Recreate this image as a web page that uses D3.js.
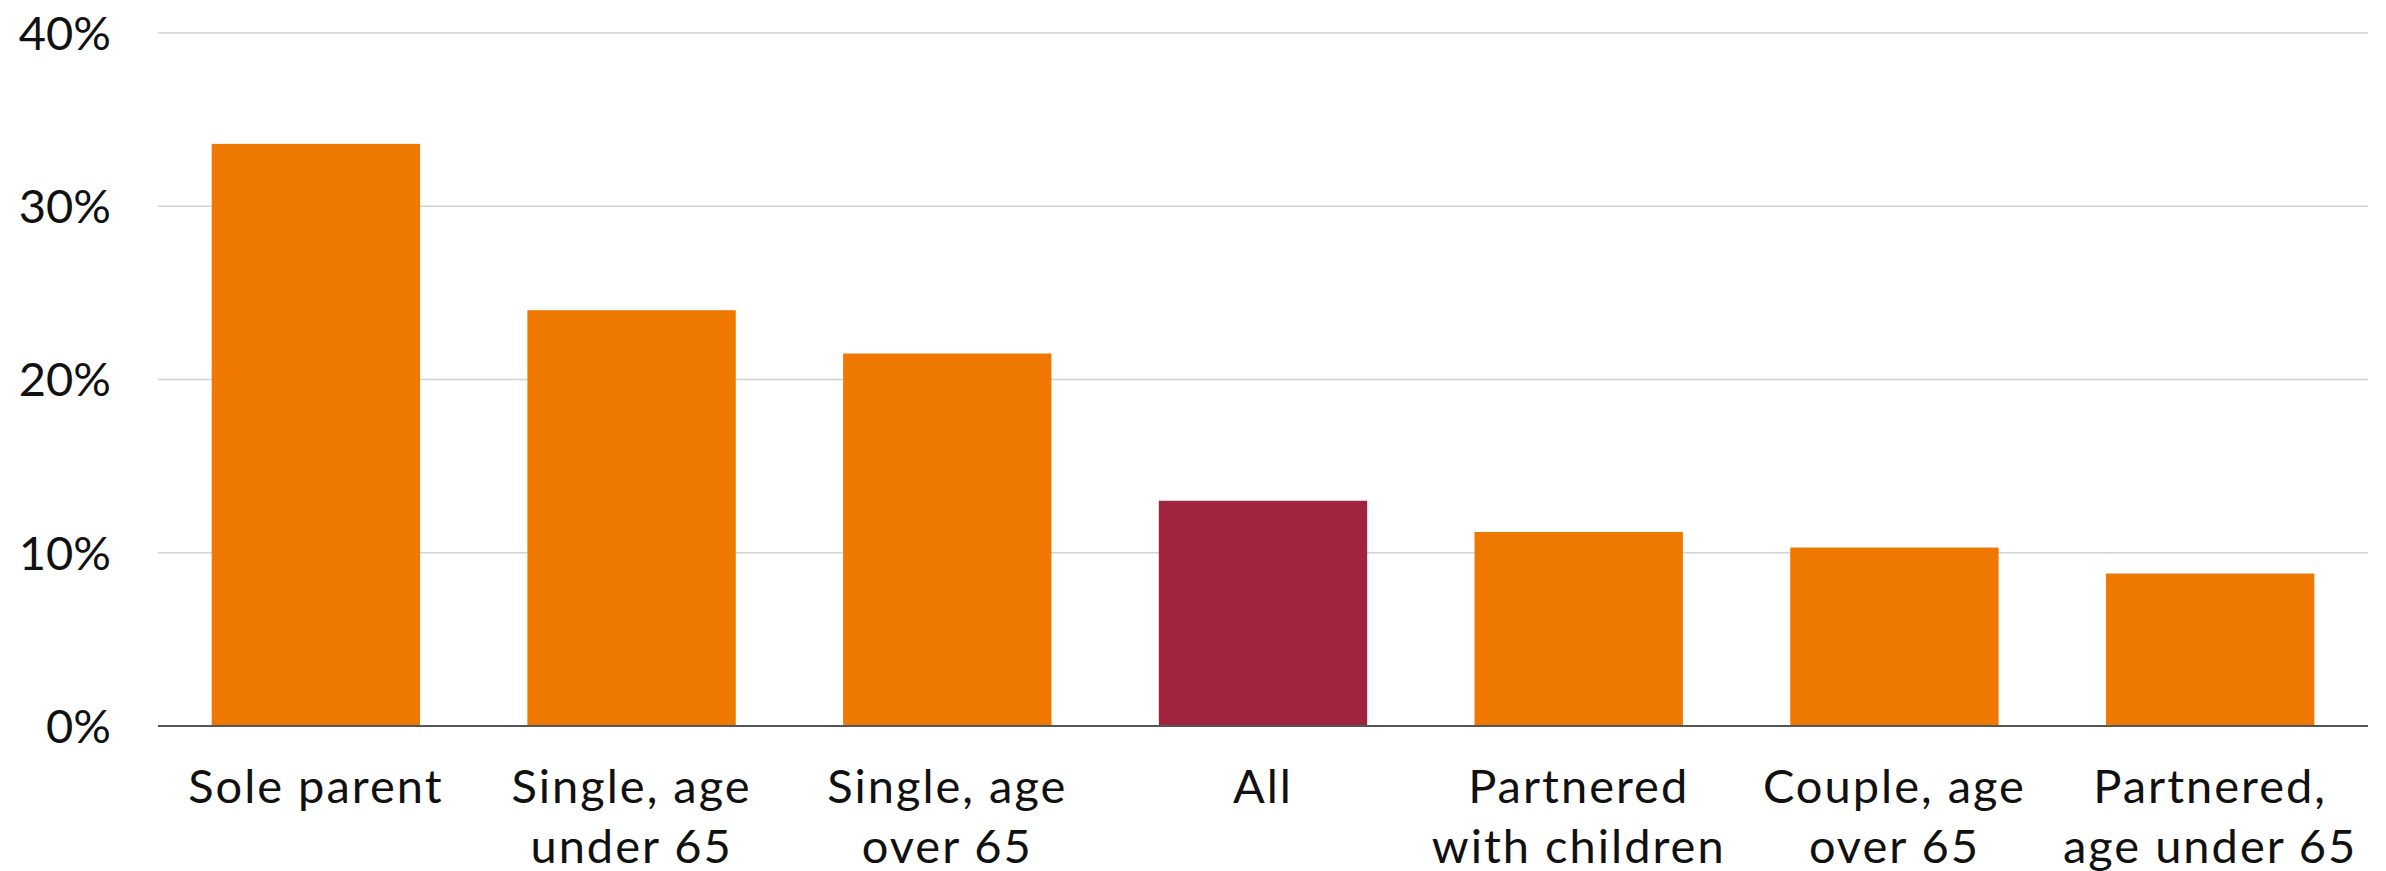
<!DOCTYPE html>
<html>
<head>
<meta charset="utf-8">
<script src="https://cdn.jsdelivr.net/npm/d3@7"></script>
<style>
  html, body { margin: 0; padding: 0; background: #fff; }
  svg { display: block; }
  text { font-family: Lato, "Noto Sans", sans-serif; fill: #111; }
</style>
</head>
<body>
<svg id="chart" width="2386" height="871"></svg>
<script>
const categories = [
  ["Sole parent"],
  ["Single, age", "under 65"],
  ["Single, age", "over 65"],
  ["All"],
  ["Partnered", "with children"],
  ["Couple, age", "over 65"],
  ["Partnered,", "age under 65"]
];
const values = [33.6, 24.0, 21.5, 13.0, 11.2, 10.3, 8.8];
const highlight = [false, false, false, true, false, false, false];
const yTicks = [0, 10, 20, 30, 40];
const yTickLabels = ["0%", "10%", "20%", "30%", "40%"];

const W = 2386, H = 871;
const margin = { left: 158, right: 18, top: 33, bottom: 145 };
const svg = d3.select("#chart");

const x = d3.scaleBand()
  .domain(d3.range(categories.length))
  .range([margin.left, W - margin.right])
  .paddingInner(0.34)
  .paddingOuter(0.17);

const y = d3.scaleLinear()
  .domain([0, 40])
  .range([H - margin.bottom, margin.top]);

// gridlines
svg.append("g").selectAll("line")
  .data(yTicks.filter(d => d !== 0))
  .join("line")
  .attr("x1", margin.left).attr("x2", W - margin.right)
  .attr("y1", d => y(d)).attr("y2", d => y(d))
  .attr("stroke", "#cfd2d7").attr("stroke-width", 1.5);

// y tick labels
svg.append("g").selectAll("text")
  .data(yTicks)
  .join("text")
  .attr("x", 111)
  .attr("y", d => y(d))
  .attr("dy", "0.36em")
  .attr("text-anchor", "end")
  .attr("font-size", 47)
  .text((d, i) => yTickLabels[i]);

// bars
svg.append("g").selectAll("rect")
  .data(values)
  .join("rect")
  .attr("x", (d, i) => x(i))
  .attr("width", x.bandwidth())
  .attr("y", d => y(d))
  .attr("height", d => y(0) - y(d))
  .attr("fill", (d, i) => highlight[i] ? "#a1243f" : "#ef7900");

// baseline axis
svg.append("line")
  .attr("x1", margin.left).attr("x2", W - margin.right)
  .attr("y1", y(0)).attr("y2", y(0))
  .attr("stroke", "#555").attr("stroke-width", 2);

// x labels
const xl = svg.append("g").selectAll("text")
  .data(categories)
  .join("text")
  .attr("text-anchor", "middle")
  .attr("font-size", 47)
  .attr("letter-spacing", 2)
  .attr("x", (d, i) => x(i) + x.bandwidth() / 2)
  .attr("y", 803);
xl.selectAll("tspan")
  .data(d => d)
  .join("tspan")
  .attr("x", function() { return d3.select(this.parentNode).attr("x"); })
  .attr("dy", (d, i) => i === 0 ? 0 : 60)
  .text(d => d);
</script>
</body>
</html>
